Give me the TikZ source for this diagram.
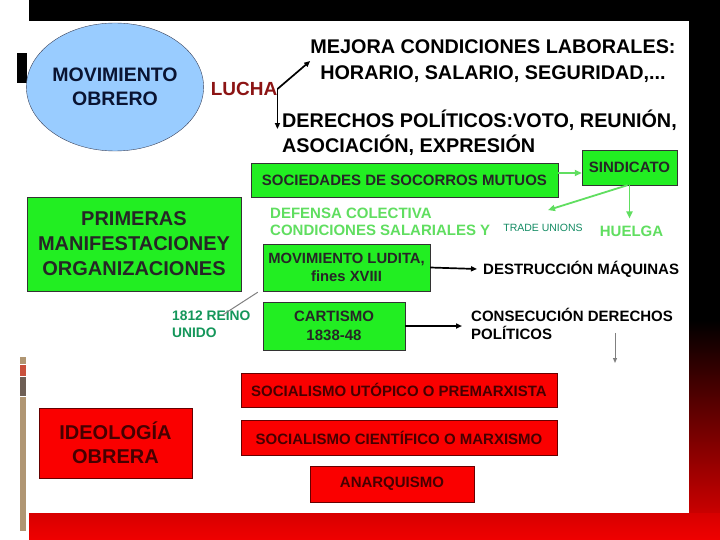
\documentclass[tikz,border=0pt]{standalone}
\usepackage{fontspec}
\setmainfont{Liberation Sans}
\usetikzlibrary{shapes.geometric}
\usetikzlibrary{arrows.meta}

\definecolor{boxgreen}{RGB}{34,238,34}
\definecolor{boxred}{RGB}{250,0,0}
\definecolor{softgreen}{RGB}{96,222,96}
\definecolor{tealgreen}{RGB}{20,140,100}
\definecolor{reinogreen}{RGB}{20,150,90}
\definecolor{luchared}{RGB}{140,20,20}
\definecolor{navy}{RGB}{10,20,50}
\definecolor{skyblue}{RGB}{153,204,255}
\definecolor{redtext}{RGB}{70,0,0}
\definecolor{striptan}{RGB}{176,150,115}
\definecolor{stripred}{RGB}{200,80,60}
\definecolor{stripgray}{RGB}{110,95,85}

\tikzset{
    greenbox/.style={draw=black!80, fill=boxgreen, text=black!85, inner sep=0pt, align=center},
    redbox/.style={draw=black!60!red, fill=boxred, text=redtext, inner sep=0pt, align=center},
    label/.style={inner sep=0pt},
    arr/.style={-{Triangle[length=6pt,width=5pt]}, line width=1.7pt},
    grnarr/.style={-{Triangle[length=7pt,width=6pt]}, line width=1.8pt, softgreen},
    grayarr/.style={-{Triangle[length=5pt,width=4pt]}, line width=1pt, gray}
}

\begin{document}
\begin{tikzpicture}[x=1pt, y=-1pt]

    \useasboundingbox (0, 0) rectangle (720, 540);
    \fill[white] (0, 0) rectangle (720, 540);

    % Make the frame of the slide
    \fill[black] (29, 0) rectangle (720, 21);
    \fill[black] (689, 0) rectangle (720, 320);
    \shade[top color=black, bottom color={rgb,255:red,230;green,0;blue,0}] (689, 320) rectangle (720, 540);
    \shade[top color={rgb,255:red,215;green,0;blue,0}, bottom color={rgb,255:red,240;green,0;blue,0}] (29, 513) rectangle (720, 540);
    \fill[black] (17, 53) rectangle (27, 83);

    % Make the strip on the left
    \foreach \a/\b/\c in {357/364/striptan, 365/376/stripred, 377/396/stripgray, 397/531/striptan}{
        \fill[\c] (20, \a) rectangle (26, \b);
    }

    % Top part
    \node[ellipse, draw=navy!80, fill=skyblue, minimum width=176pt, minimum height=128pt, inner sep=0pt,
          text=navy, align=center, font=\bfseries\fontsize{19.5}{24}\selectfont] (obrero) at (115, 87) {MOVIMIENTO\\OBRERO};
    \node[label, text=luchared, font=\bfseries\fontsize{19}{20}\selectfont] (lucha) at (244, 89) {LUCHA};
    \node[label, align=center, font=\bfseries\fontsize{19.8}{26}\selectfont] (mejora) at (493, 61)
        {MEJORA CONDICIONES LABORALES:\\HORARIO, SALARIO, SEGURIDAD,...};
    \node[label, anchor=north west, align=left, font=\bfseries\fontsize{19.8}{25}\selectfont] (derechos) at (282, 110)
        {DERECHOS POLÍTICOS:VOTO, REUNIÓN,\\ASOCIACIÓN, EXPRESIÓN};

    \draw[arr] (lucha.east) -- (mejora.west);
    \draw[arr] (lucha.east) -- ([yshift=4pt]lucha.east |- derechos.west);

    % Green part
    \node[greenbox, minimum width=307pt, minimum height=34pt, font=\bfseries\fontsize{15}{18}\selectfont] (socorros) at (404.5, 180)
        {SOCIEDADES DE SOCORROS MUTUOS};
    \node[greenbox, minimum width=95pt, minimum height=35pt, font=\bfseries\fontsize{15}{18}\selectfont] (sindicato) at (629.5, 167.5)
        {SINDICATO};
    \node[label, anchor=west, align=left, text=softgreen, font=\bfseries\fontsize{15}{17}\selectfont] (defensa) at (270, 221.5)
        {DEFENSA COLECTIVA\\CONDICIONES SALARIALES Y};
    \node[label, text=tealgreen, font=\fontsize{10.5}{12}\selectfont] (trade) at (543, 228) {TRADE UNIONS};
    \node[label, text=softgreen, font=\bfseries\fontsize{15}{17}\selectfont] (huelga) at (631.5, 231) {HUELGA};

    \draw[grnarr] ([yshift=7pt]socorros.east) -- ([yshift=7pt]socorros.east -| sindicato.west);
    \draw[grnarr] ([xshift=-2pt]sindicato.south) -- ([xshift=5pt, yshift=14pt]trade.north);
    \draw[grnarr] (sindicato.south) -- ([yshift=7pt]sindicato.south |- huelga.north);

    \node[greenbox, minimum width=214pt, minimum height=94pt, font=\bfseries\fontsize{20}{25}\selectfont] (primeras) at (134, 244)
        {PRIMERAS\\MANIFESTACIONEY\\ORGANIZACIONES};
    \node[greenbox, minimum width=167pt, minimum height=47pt, font=\bfseries\fontsize{14.8}{18}\selectfont] (ludita) at (346.5, 267.5)
        {MOVIMIENTO LUDITA,\\fines XVIII};
    \node[greenbox, minimum width=142pt, minimum height=48pt, font=\bfseries\fontsize{15}{19}\selectfont] (cartismo) at (334, 326)
        {CARTISMO\\1838-48};
    \node[label, anchor=west, font=\bfseries\fontsize{15}{18}\selectfont] (destruccion) at (483, 269) {DESTRUCCIÓN MÁQUINAS};
    \node[label, anchor=west, align=left, font=\bfseries\fontsize{15}{18}\selectfont] (consecucion) at (471, 324)
        {CONSECUCIÓN DERECHOS\\POLÍTICOS};
    \node[label, anchor=west, align=left, text=reinogreen, font=\bfseries\fontsize{13.8}{17}\selectfont] (reino) at (172, 324.5)
        {1812 REINO\\UNIDO};
    \coordinate (gris) at (615, 363);

    \draw[arr] (ludita.east) -- ([xshift=-6pt]destruccion.west);
    \draw[arr] (cartismo.east) -- ([xshift=-9pt]cartismo.east -| consecucion.west);
    \draw[gray, line width=1pt] ([xshift=-5pt, yshift=-1pt]ludita.south west) -- ([xshift=-28pt, yshift=-4pt]reino.north east);
    \draw[grayarr] ([yshift=7pt]gris |- consecucion.south) -- (gris);

    % Red part
    \node[redbox, minimum width=316pt, minimum height=34pt, font=\bfseries\fontsize{15}{18}\selectfont] (utopico) at (399, 390)
        {SOCIALISMO UTÓPICO O PREMARXISTA};
    \node[redbox, minimum width=316pt, minimum height=35pt, font=\bfseries\fontsize{15}{18}\selectfont] (cientifico) at (399, 437.5)
        {SOCIALISMO CIENTÍFICO O MARXISMO};
    \node[redbox, minimum width=164pt, minimum height=36pt, font=\bfseries\fontsize{15}{18}\selectfont] (anarquismo) at (392, 484)
        {ANARQUISMO};
    \node[redbox, minimum width=153pt, minimum height=70pt, font=\bfseries\fontsize{20}{24}\selectfont] (ideologia) at (115.5, 443)
        {IDEOLOGÍA\\OBRERA};

\end{tikzpicture}
\end{document}
